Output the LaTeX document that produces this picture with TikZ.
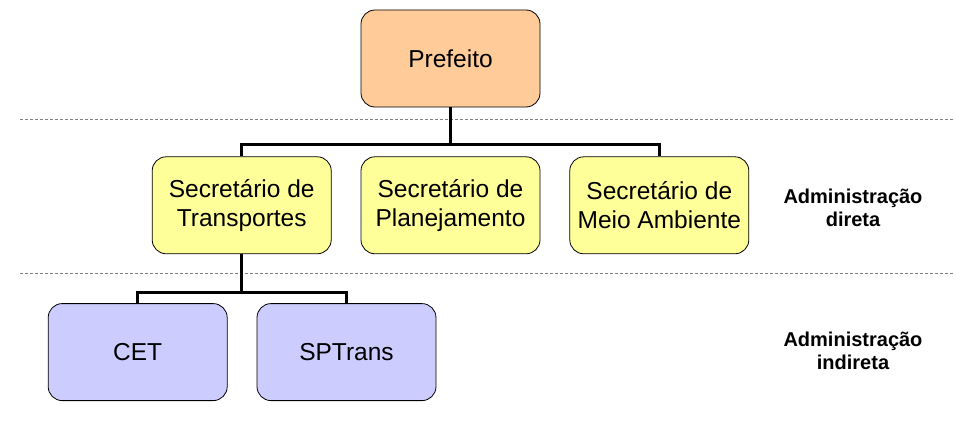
\documentclass[tikz,border=0pt]{standalone}
\usepackage{fontspec}
\setmainfont{Liberation Sans}
\usepackage{xcolor}
\usetikzlibrary{positioning}

\definecolor{prefcol}{HTML}{FFCC99}
\definecolor{seccol}{HTML}{FFFF99}
\definecolor{indcol}{HTML}{CCCCFF}

\begin{document}
\begin{tikzpicture}[
    node distance=49pt and 29pt,
    box/.style={rectangle, draw, line width=0.8pt, rounded corners=14pt, minimum width=179pt, minimum height=97pt, align=center, font=\fontsize{24.5}{29}\selectfont},
    conn/.style={line width=3pt},
    sep/.style={gray, line width=1pt, dash pattern=on 3pt off 2pt},
    lbl/.style={align=center, font=\bfseries\fontsize{20}{23}\selectfont}
]
\useasboundingbox (0,0) rectangle (955pt,-428pt);
% Prefeito
\node[box, fill=prefcol] (pref) at (450.5pt,-58.5pt) {Prefeito};
% Secretarios
\node[box, fill=seccol, below=of pref] (planej) {Secretário de\\Planejamento};
\node[box, fill=seccol, left=of planej] (transp) {Secretário de\\Transportes};
\node[box, fill=seccol, right=of planej] (meio) {Secretário de\\Meio Ambiente};
% Indireta
\node[box, fill=indcol, below=of transp, xshift=-104pt] (cet) {CET};
\node[box, fill=indcol, right=of cet] (sptrans) {SPTrans};
% Separators
\coordinate (sepAl) at (20pt,-119pt);
\coordinate (sepAr) at (955pt,-119pt);
\coordinate (sepBl) at (20pt,-273pt);
\coordinate (sepBr) at (955pt,-273pt);
\draw[sep] (sepAl) -- (sepAr);
\draw[sep] (sepBl) -- (sepBr);
% Labels
\node[lbl] (direta) at (853pt,-208pt) {Administração\\direta};
\node[lbl] (indireta) at (853pt,-351pt) {Administração\\indireta};
% Connectors
\coordinate (bus1) at ([yshift=12pt]planej.north);
\draw[conn] (pref.south) -- (bus1);
\draw[conn] (transp.north) |- (bus1) -| (meio.north);
\draw[conn] (transp.south) -- ++(0,-38pt) coordinate (bus2);
\draw[conn] (cet.north) |- (bus2) -| (sptrans.north);
\end{tikzpicture}
\end{document}
